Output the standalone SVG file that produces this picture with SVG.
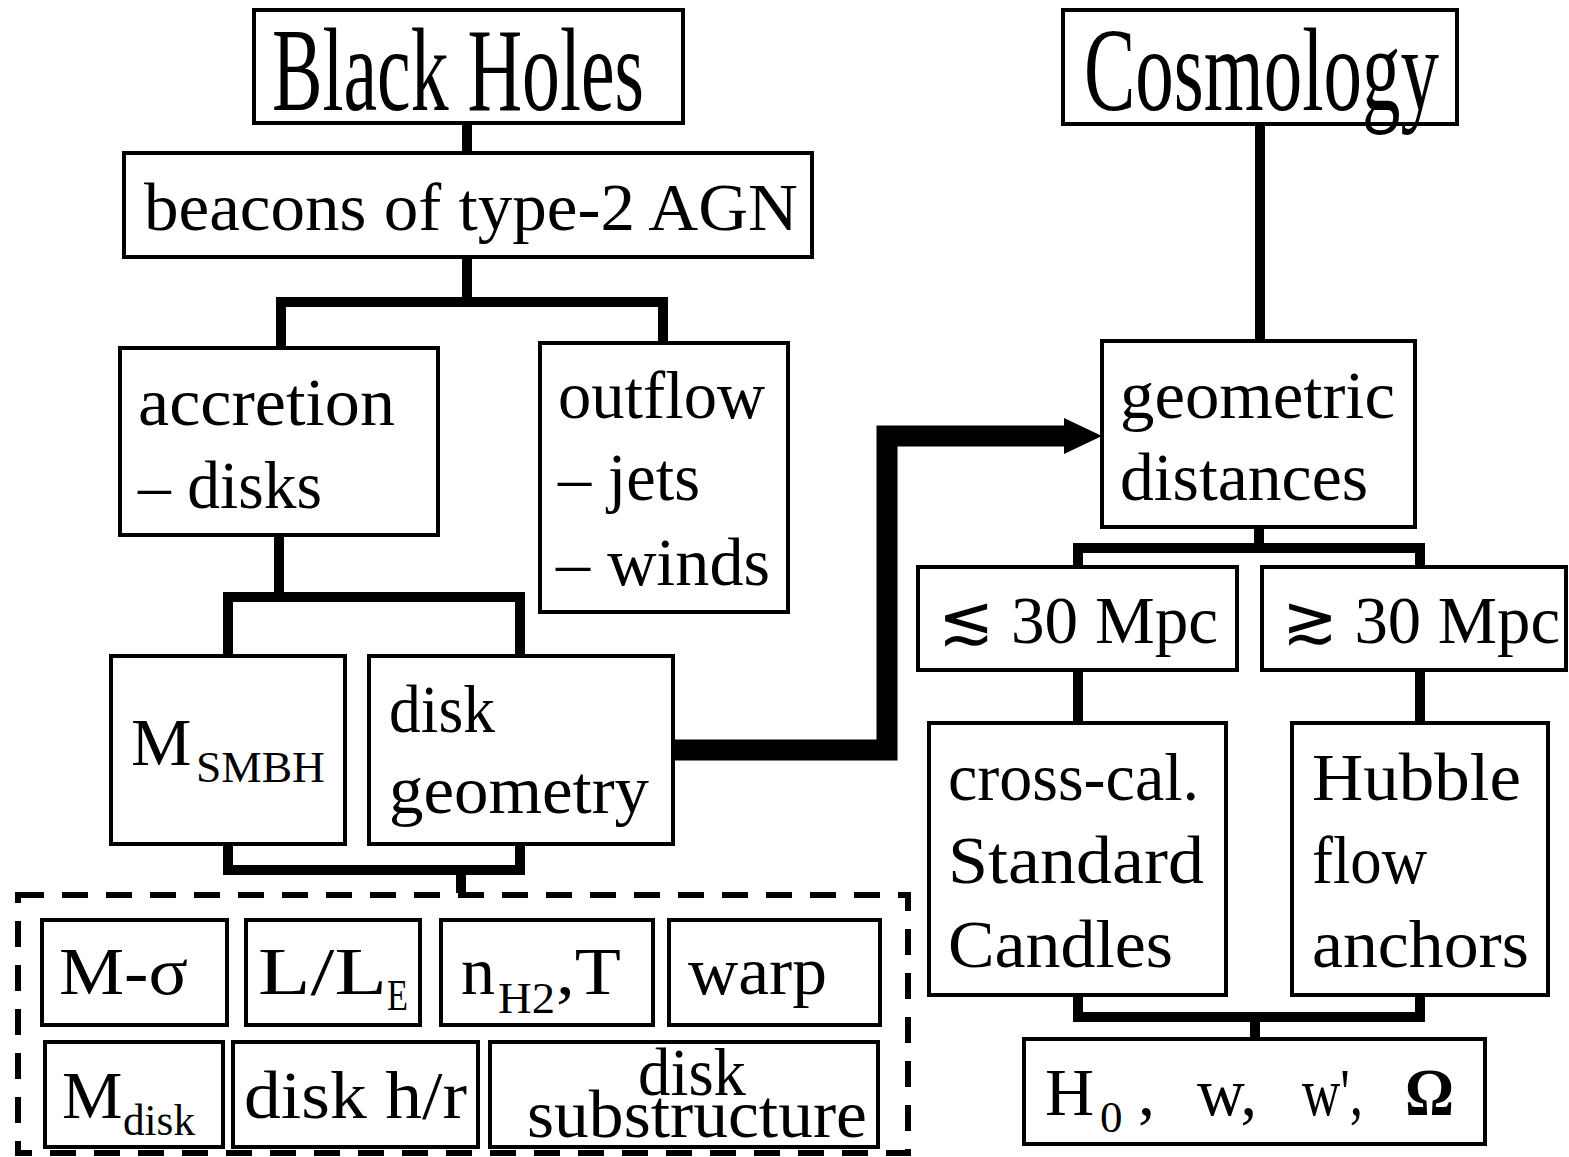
<svg xmlns="http://www.w3.org/2000/svg" width="1569" height="1157" viewBox="0 0 1569 1157">
<style>
.box{fill:#fff;stroke:#000;stroke-width:4}
.con{fill:none;stroke:#000;stroke-width:10;stroke-linejoin:miter}
.arr{fill:none;stroke:#000;stroke-width:21;stroke-linejoin:miter}
.dash{fill:none;stroke:#000;stroke-width:6;stroke-dasharray:26 18}
text{font-family:"Liberation Serif","DejaVu Serif",serif;font-size:68px;fill:#000}
.big{font-size:118px}
.sub{font-size:45px}
</style>
<defs>
<marker id="ah" markerUnits="userSpaceOnUse" markerWidth="40" markerHeight="38" refX="2" refY="18" orient="auto">
<path d="M0,0 L38,18 L0,36 z" fill="#000"/>
</marker>
</defs>
<rect width="1569" height="1157" fill="#fff"/>
<g id="connectors">
<path class="con" d="M467,123 V153"/>
<path class="con" d="M467,257 V302"/>
<path class="con" d="M281,348 V302 H663 V343"/>
<path class="con" d="M279,535 V597"/>
<path class="con" d="M228,656 V597 H520 V656"/>
<path class="con" d="M228,844 V870 H520 V844"/>
<path class="con" d="M461,870 V893"/>
<path class="arr" d="M671,750 H887 V436 H1066" marker-end="url(#ah)"/>
<path class="con" d="M1260,124 V341"/>
<path class="con" d="M1259,527 V548"/>
<path class="con" d="M1078,567 V548 H1420 V567"/>
<path class="con" d="M1078,670 V723"/>
<path class="con" d="M1420,670 V723"/>
<path class="con" d="M1078,995 V1017 H1420 V995"/>
<path class="con" d="M1255,1017 V1039"/>
</g>
<g id="black-holes"><rect class="box" x="254" y="10" width="429" height="113"/>
<text class="big" x="272" y="110" textLength="372" lengthAdjust="spacingAndGlyphs">Black Holes</text></g>
<g id="cosmology"><rect class="box" x="1063" y="10" width="394" height="114"/>
<text class="big" x="1084" y="110" textLength="355" lengthAdjust="spacingAndGlyphs">Cosmology</text></g>
<g id="beacons"><rect class="box" x="124" y="153" width="688" height="104"/>
<text x="144" y="230" textLength="654" lengthAdjust="spacingAndGlyphs">beacons of type-2 AGN</text></g>
<g id="accretion"><rect class="box" x="120" y="348" width="318" height="187"/>
<text x="138" y="425" textLength="257" lengthAdjust="spacingAndGlyphs">accretion</text>
<text x="138" y="508" textLength="184" lengthAdjust="spacingAndGlyphs">– disks</text></g>
<g id="outflow"><rect class="box" x="540" y="343" width="248" height="269"/>
<text x="558" y="418" textLength="207" lengthAdjust="spacingAndGlyphs">outflow</text>
<text x="558" y="500" textLength="142" lengthAdjust="spacingAndGlyphs">– jets</text>
<text x="556" y="585" textLength="214" lengthAdjust="spacingAndGlyphs">– winds</text></g>
<g id="msmbh"><rect class="box" x="111" y="656" width="234" height="188"/>
<text x="131" y="765">M</text>
<text class="sub" x="196" y="782" textLength="129" lengthAdjust="spacingAndGlyphs">SMBH</text></g>
<g id="disk-geometry"><rect class="box" x="369" y="656" width="304" height="188"/>
<text x="389" y="732" textLength="106" lengthAdjust="spacingAndGlyphs">disk</text>
<text x="389" y="813" textLength="260" lengthAdjust="spacingAndGlyphs">geometry</text></g>
<g id="parameters">
<rect class="dash" x="18" y="895" width="890" height="258"/>
<g id="m-sigma"><rect class="box" x="42" y="920" width="185" height="105"/>
<text x="59" y="994" textLength="129" lengthAdjust="spacingAndGlyphs">M-σ</text></g>
<g id="l-le"><rect class="box" x="246" y="920" width="174" height="105"/>
<text x="258" y="994" textLength="129" lengthAdjust="spacingAndGlyphs">L/L</text>
<text class="sub" x="387" y="1010" textLength="21" lengthAdjust="spacingAndGlyphs">E</text></g>
<g id="nh2-t"><rect class="box" x="441" y="920" width="212" height="105"/>
<text x="461" y="994">n</text>
<text class="sub" x="498" y="1013" textLength="57" lengthAdjust="spacingAndGlyphs">H2</text>
<text x="556" y="994" textLength="65" lengthAdjust="spacingAndGlyphs">,T</text></g>
<g id="warp"><rect class="box" x="669" y="920" width="211" height="105"/>
<text x="688" y="994" textLength="139" lengthAdjust="spacingAndGlyphs">warp</text></g>
<g id="m-disk"><rect class="box" x="45" y="1042" width="178" height="105"/>
<text x="62" y="1118">M</text>
<text class="sub" x="123" y="1135" textLength="72" lengthAdjust="spacingAndGlyphs">disk</text></g>
<g id="disk-hr"><rect class="box" x="233" y="1042" width="245" height="105"/>
<text x="244" y="1118" textLength="223" lengthAdjust="spacingAndGlyphs">disk h/r</text></g>
<g id="disk-substructure"><rect class="box" x="490" y="1042" width="388" height="105"/>
<text x="638" y="1095" textLength="108" lengthAdjust="spacingAndGlyphs">disk</text>
<text x="527" y="1137" textLength="340" lengthAdjust="spacingAndGlyphs">substructure</text></g>
</g>
<g id="geometric-distances"><rect class="box" x="1102" y="341" width="313" height="186"/>
<text x="1120" y="418" textLength="275" lengthAdjust="spacingAndGlyphs">geometric</text>
<text x="1120" y="500" textLength="248" lengthAdjust="spacingAndGlyphs">distances</text></g>
<g id="lt30"><rect class="box" x="918" y="567" width="319" height="103"/>
<text x="938" y="643" textLength="280" lengthAdjust="spacingAndGlyphs">≲ 30 Mpc</text></g>
<g id="gt30"><rect class="box" x="1262" y="567" width="304" height="103"/>
<text x="1282" y="643" textLength="278" lengthAdjust="spacingAndGlyphs">≳ 30 Mpc</text></g>
<g id="cross-cal"><rect class="box" x="929" y="723" width="297" height="272"/>
<text x="948" y="800" textLength="251" lengthAdjust="spacingAndGlyphs">cross-cal.</text>
<text x="948" y="883" textLength="256" lengthAdjust="spacingAndGlyphs">Standard</text>
<text x="948" y="967" textLength="225" lengthAdjust="spacingAndGlyphs">Candles</text></g>
<g id="hubble"><rect class="box" x="1292" y="723" width="256" height="272"/>
<text x="1312" y="800" textLength="209" lengthAdjust="spacingAndGlyphs">Hubble</text>
<text x="1312" y="883" textLength="115" lengthAdjust="spacingAndGlyphs">flow</text>
<text x="1312" y="967" textLength="217" lengthAdjust="spacingAndGlyphs">anchors</text></g>
<g id="cosmo-params"><rect class="box" x="1024" y="1039" width="461" height="105"/>
<text x="1045" y="1115">H</text>
<text class="sub" x="1100" y="1132">0</text>
<text x="1138" y="1115">,</text>
<text x="1197" y="1115" textLength="60" lengthAdjust="spacingAndGlyphs">w,</text>
<text x="1302" y="1115" textLength="61" lengthAdjust="spacingAndGlyphs">w',</text>
<text x="1405" y="1115" font-weight="bold" textLength="49" lengthAdjust="spacingAndGlyphs">Ω</text></g>
</svg>
